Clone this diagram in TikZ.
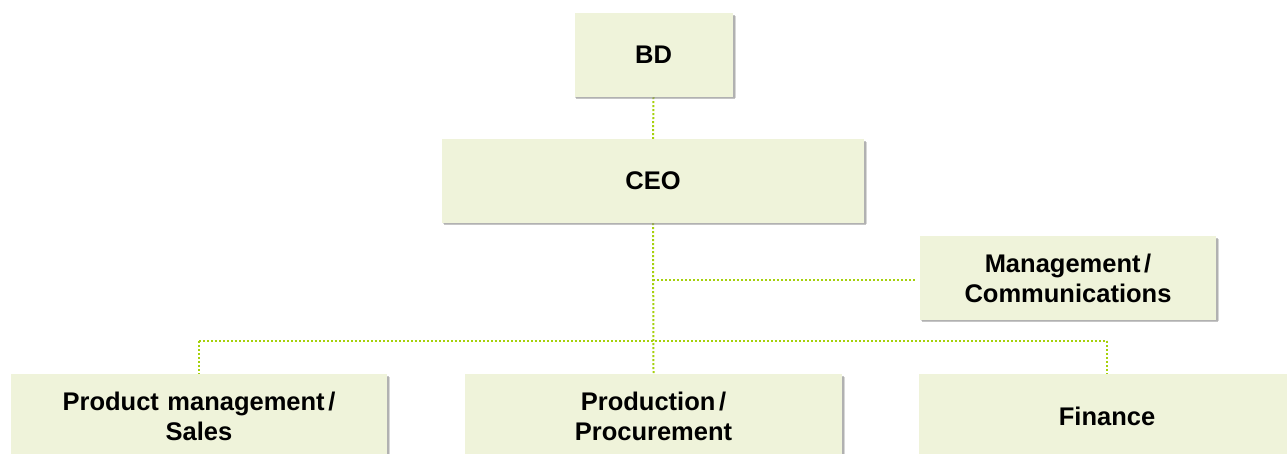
\documentclass[tikz,border=0pt]{standalone}
\usepackage{fontspec}
\setmainfont{Liberation Sans}
\definecolor{boxfill}{HTML}{EFF3DA}
\definecolor{linegreen}{HTML}{A6D10C}
\definecolor{shadowgray}{HTML}{8C8C8C}
\tikzset{
  orgbox/.style={rectangle, fill=boxfill, minimum height=84pt, inner sep=0pt,
    align=center, font=\fontsize{25.5}{30}\selectfont\bfseries},
  conn/.style={draw=linegreen, line width=2pt, dash pattern=on 2pt off 2pt}
}
\newcommand{\orgslash}{\hspace{0.14em}/}
\newcommand{\shadowbox}[1]{%
  \fill[shadowgray, opacity=0.35] ([xshift=1pt,yshift=-1pt]#1.south west) rectangle ([xshift=3pt,yshift=-3pt]#1.north east);
  \fill[shadowgray, opacity=0.5] ([xshift=2pt,yshift=-2pt]#1.south west) rectangle ([xshift=2pt,yshift=-2pt]#1.north east);
}
\begin{document}
\begin{tikzpicture}[x=1pt,y=-1pt]
\useasboundingbox (0,0) rectangle (1287,454);
\clip (0,0) rectangle (1287,454);
% nodes (placed invisibly first so shadows and connectors sit beneath)
\path
  node[orgbox, minimum width=158pt, text width=150pt, opacity=0] (bd) at (653.5,55) {BD}
  node[orgbox, minimum width=422pt, text width=410pt, opacity=0] (ceo) at (653,181) {CEO}
  node[orgbox, minimum width=296pt, text width=290pt, opacity=0] (mgmt) at (1068,278) {Management\orgslash\\Communications}
  node[orgbox, minimum width=376pt, text width=370pt, opacity=0] (prod) at (199,416) {Product management\orgslash\\Sales}
  node[orgbox, minimum width=377pt, text width=370pt, opacity=0] (proc) at (653.5,416) {Production\orgslash\\Procurement}
  node[orgbox, minimum width=376pt, text width=370pt, opacity=0] (fin) at (1107,416) {Finance};
\coordinate (busy) at (0,341);
\coordinate (mgy) at (0,280);
% connectors
\draw[conn] (bd.south) -- (ceo.north);
\draw[conn] (ceo.south) -- (proc.north);
\draw[conn] (ceo.south |- mgy) -- ([xshift=-4pt]mgmt.west |- mgy);
\draw[conn] (prod.north |- busy) -- (fin.north |- busy);
\draw[conn] (prod.north |- busy) -- (prod.north);
\draw[conn] (fin.north |- busy) -- (fin.north);
% shadows
\shadowbox{bd}
\shadowbox{ceo}
\shadowbox{mgmt}
\shadowbox{prod}
\shadowbox{proc}
\shadowbox{fin}
% visible boxes
\node[orgbox, minimum width=158pt, text width=150pt] at (bd) {BD};
\node[orgbox, minimum width=422pt, text width=410pt] at (ceo) {CEO};
\node[orgbox, minimum width=296pt, text width=290pt] at (mgmt) {Management\orgslash\\Communications};
\node[orgbox, minimum width=376pt, text width=370pt] at (prod) {Product management\orgslash\\Sales};
\node[orgbox, minimum width=377pt, text width=370pt] at (proc) {Production\orgslash\\Procurement};
\node[orgbox, minimum width=376pt, text width=370pt] at (fin) {Finance};
\end{tikzpicture}
\end{document}
